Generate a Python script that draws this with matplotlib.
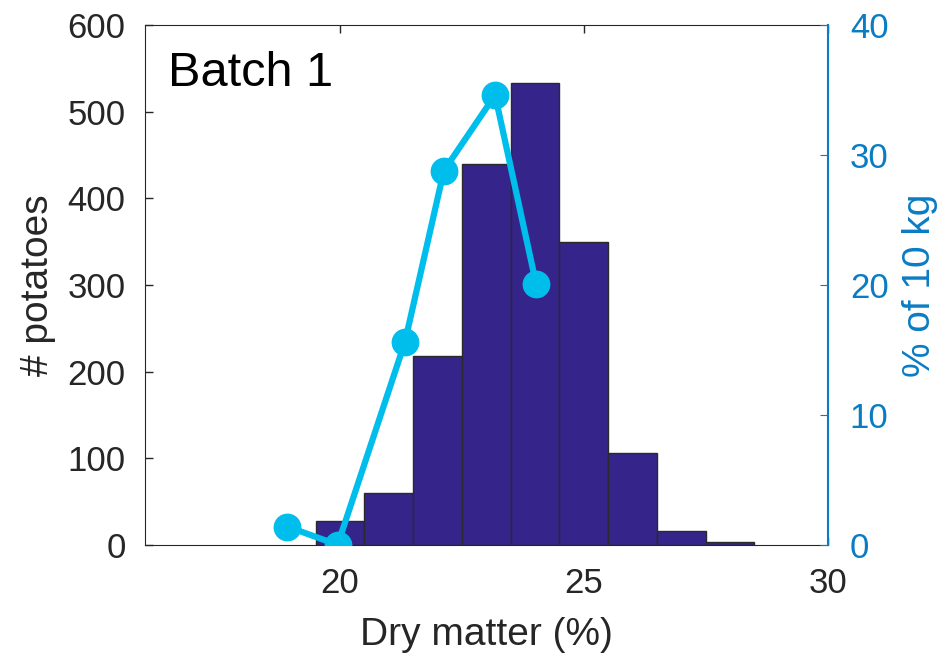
import numpy as np
import matplotlib
matplotlib.use("Agg")
import matplotlib.pyplot as plt

plt.rcParams['font.family'] = ['Liberation Sans', 'DejaVu Sans']

# histogram (left axis)
bin_edges = [19.5, 20.5, 21.5, 22.5, 23.5, 24.5, 25.5, 26.5, 27.5, 28.5]
counts = [27, 60, 218, 440, 533, 350, 106, 16, 3]

# % of 10 kg (right axis)
pct_x = [18.92, 19.95, 21.33, 22.13, 23.18, 24.02]
pct_y = [1.4, 0.0, 15.6, 28.8, 34.6, 20.1]

bar_color = '#35258A'
line_color = '#00BEEB'
right_color = '#0A7CC4'
dark = '#262626'

fig = plt.figure(figsize=(9.48, 6.58), dpi=100)
ax = fig.add_axes([0.153, 0.172, 0.72, 0.79])

left = np.array(bin_edges[:-1])
widths = np.diff(bin_edges)
ax.bar(left, counts, width=widths, align='edge', color=bar_color,
       edgecolor='#2a2a2a', linewidth=1.0, zorder=2)

ax.set_xlim(16, 30)
ax.set_ylim(0, 600)
ax.set_xticks([20, 25, 30])
ax.set_yticks(range(0, 601, 100))
ax.tick_params(axis='both', direction='in', length=6, labelsize=25,
               colors=dark, top=True, width=1)
ax.tick_params(axis='y', pad=14)
ax.tick_params(axis='x', pad=16)
for s in ['left', 'bottom', 'top']:
    ax.spines[s].set_color(dark)
ax.spines['right'].set_visible(False)
ax.set_xlabel('Dry matter (%)', fontsize=28, color=dark, labelpad=12)
ax.set_ylabel('# potatoes', fontsize=28, color=dark, labelpad=8)
ax.text(0.033, 0.95, 'Batch 1', transform=ax.transAxes, fontsize=35,
        va='top', ha='left', color='black')

ax2 = ax.twinx()
ax2.plot(pct_x, pct_y, '-o', color=line_color, lw=4.5, markersize=19,
         zorder=3)
ax2.set_ylim(0, 40)
ax2.set_yticks(range(0, 41, 10))
ax2.tick_params(axis='y', direction='in', length=6, labelsize=25,
                colors=right_color, pad=16)
ax2.spines['right'].set_color(right_color)
ax2.spines['right'].set_linewidth(1.5)
for s in ['left', 'bottom', 'top']:
    ax2.spines[s].set_visible(False)
ax2.set_ylabel('% of 10 kg', fontsize=28, color=right_color, labelpad=10)

fig.savefig('out.png', dpi=100)
